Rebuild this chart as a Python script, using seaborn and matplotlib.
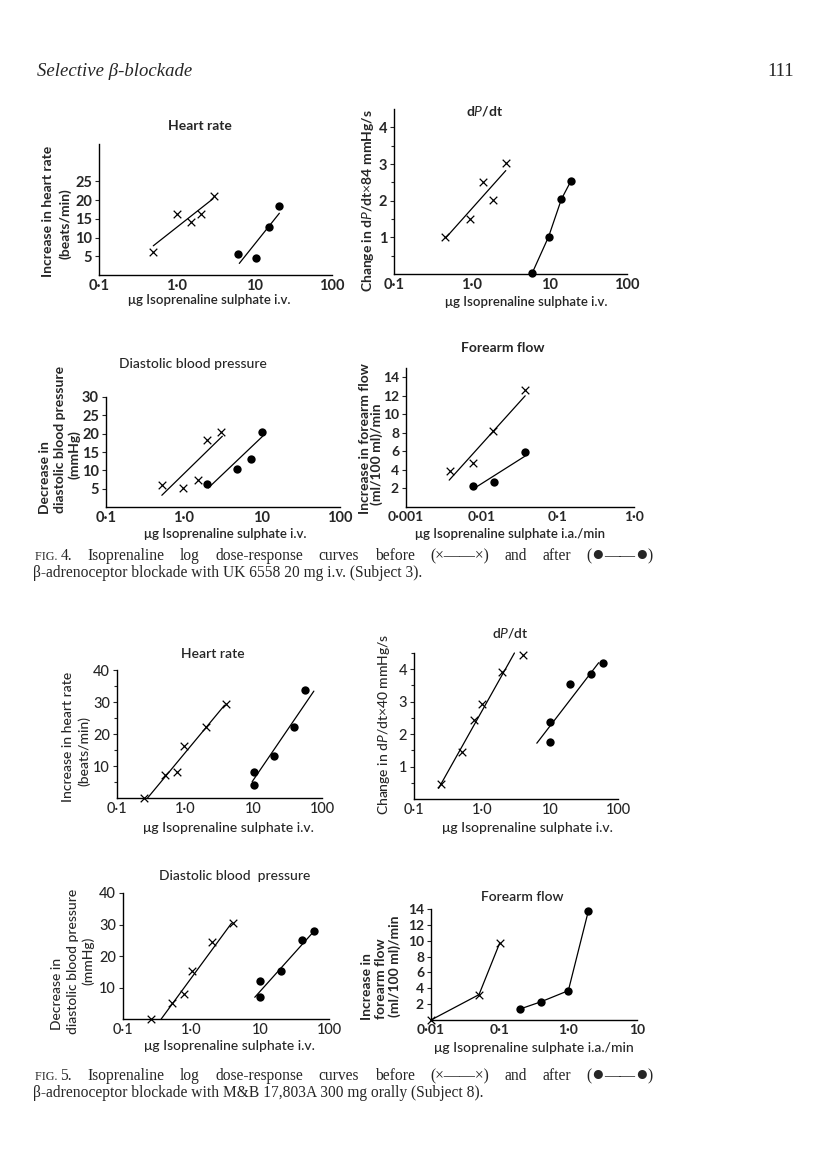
import matplotlib
matplotlib.use("Agg")
import matplotlib.pyplot as plt
import seaborn as sns
from matplotlib.ticker import NullLocator

sns.set_style("ticks")
plt.rcParams["font.family"] = ["Lato", "DejaVu Sans"]
plt.rcParams["mathtext.fontset"] = "custom"
plt.rcParams["mathtext.rm"] = "Lato"
plt.rcParams["mathtext.it"] = "Lato:italic"
plt.rcParams["mathtext.bf"] = "Lato:bold"
SERIF = ["Liberation Serif", "DejaVu Serif"]

# ---- data (x = dose, y = response) ----
# Fig. 4, heart rate
hr4_before_x = [0.5, 1.0, 1.55, 2.05, 3.0]
hr4_before_y = [6.2, 16.3, 14.2, 16.3, 21.2]
hr4_before_fit_x = [0.5, 2.95]
hr4_before_fit_y = [7.8, 20.4]
hr4_after_x = [6.2, 10.5, 15.5, 20.5]
hr4_after_y = [5.5, 4.6, 12.7, 18.5]
hr4_after_fit_x = [6.4, 21.0]
hr4_after_fit_y = [3.1, 16.5]

# Fig. 4, dP/dt
dp4_before_x = [0.46, 0.96, 1.39, 1.87, 2.8]
dp4_before_y = [1.0, 1.5, 2.52, 2.02, 3.02]
dp4_before_fit_x = [0.47, 2.75]
dp4_before_fit_y = [1.0, 2.82]
dp4_after_x = [6.0, 9.8, 14.3, 19.0]
dp4_after_y = [0.02, 1.02, 2.04, 2.54]

# Fig. 4, diastolic blood pressure
dbp4_before_x = [0.52, 0.98, 1.53, 2.0, 2.95]
dbp4_before_y = [5.9, 5.2, 7.3, 18.3, 20.5]
dbp4_before_fit_x = [0.52, 3.1]
dbp4_before_fit_y = [3.2, 19.3]
dbp4_after_x = [2.0, 4.8, 7.2, 10.0]
dbp4_after_y = [6.3, 10.3, 13.2, 20.5]
dbp4_after_fit_x = [2.05, 10.2]
dbp4_after_fit_y = [5.2, 19.3]

# Fig. 4, forearm flow
ff4_before_x = [0.0038, 0.0075, 0.0141, 0.0368]
ff4_before_y = [3.9, 4.7, 8.2, 12.65]
ff4_before_fit_x = [0.0037, 0.037]
ff4_before_fit_y = [2.9, 12.0]
ff4_after_x = [0.0075, 0.0142, 0.037]
ff4_after_y = [2.26, 2.7, 5.9]
ff4_after_fit_x = [0.0075, 0.037]
ff4_after_fit_y = [1.9, 5.5]

# Fig. 5, heart rate
hr5_before_x = [0.25, 0.5, 0.75, 0.97, 2.0, 4.0]
hr5_before_y = [0, 7.2, 8.2, 16.3, 22.3, 29.4]
hr5_before_fit_x = [0.28, 3.75]
hr5_before_fit_y = [0, 29.0]
hr5_after_x = [10, 10, 20, 39, 57]
hr5_after_y = [8.2, 4.1, 13.0, 22.2, 33.6]
hr5_after_fit_x = [9.5, 76]
hr5_after_fit_y = [5.1, 33.4]

# Fig. 5, dP/dt
dp5_before_x = [0.25, 0.51, 0.76, 1.0, 2.0, 4.0]
dp5_before_y = [0.45, 1.46, 2.44, 2.94, 3.92, 4.43]
dp5_before_fit_x = [0.23, 3.0]
dp5_before_fit_y = [0.33, 4.5]
dp5_after_x = [10, 10, 20, 40, 61]
dp5_after_y = [2.37, 1.75, 3.55, 3.86, 4.18]
dp5_after_fit_x = [6.4, 52]
dp5_after_fit_y = [1.72, 4.2]

# Fig. 5, diastolic blood pressure
dbp5_before_x = [0.26, 0.52, 0.77, 1.0, 2.0, 4.0]
dbp5_before_y = [0, 5.0, 7.9, 15.2, 24.5, 30.4]
dbp5_before_fit_x = [0.36, 3.8]
dbp5_before_fit_y = [0, 30.4]
dbp5_after_x = [10, 10, 20, 40, 60]
dbp5_after_y = [12.2, 7.1, 15.2, 25.1, 28.0]
dbp5_after_fit_x = [8.3, 63]
dbp5_after_fit_y = [6.9, 28.3]

# Fig. 5, forearm flow
ff5_before_x = [0.01, 0.05, 0.1]
ff5_before_y = [0, 3.2, 9.7]
ff5_after_x = [0.2, 0.4, 1.0, 1.95]
ff5_after_y = [1.4, 2.3, 3.7, 13.7]

dose_ticks = [0.1, 1, 10, 100]
dose_labels = ["0·1", "1·0", "10", "100"]
ia4_ticks = [0.001, 0.01, 0.1, 1]
ia4_labels = ["0·001", "0·01", "0·1", "1·0"]
ia5_ticks = [0.01, 0.1, 1, 10]
ia5_labels = ["0·01", "0·1", "1·0", "10"]

W, H = 816, 1170
fig = plt.figure(figsize=(W / 100, H / 100), dpi=100)


def panel(x0, x1, ytop, ybot):
    return fig.add_axes([x0 / W, 1 - ybot / H, (x1 - x0) / W, (ybot - ytop) / H])


def text(x, y, s, rot=0, **kw):
    kw.setdefault("ha", "center")
    kw.setdefault("va", "center")
    return fig.text(x / W, 1 - y / H, s, rotation=rot, **kw)


def marks(ax, bx, by, blx, bly, axx, ayy, alx, aly):
    sns.lineplot(x=blx, y=bly, ax=ax, color="black", lw=0.9, sort=False,
                 estimator=None, clip_on=False)
    sns.lineplot(x=alx, y=aly, ax=ax, color="black", lw=0.9, sort=False,
                 estimator=None, clip_on=False)
    sns.scatterplot(x=bx, y=by, ax=ax, marker="x", s=30, color="black",
                    linewidth=0.9, clip_on=False, zorder=3)
    sns.scatterplot(x=axx, y=ayy, ax=ax, marker="o", s=36, color="black",
                    edgecolor="black", linewidth=0, clip_on=False, zorder=3)


def style(ax, xlim, xticks, xlabels, ylim, yticks, yminor, weight, fs):
    ax.set_xscale("log")
    ax.set_xticks(xticks)
    ax.set_xticklabels(xlabels, fontsize=fs, fontweight=weight)
    ax.xaxis.set_minor_locator(NullLocator())
    ax.set_yticks(yticks)
    ax.set_yticklabels([str(v) for v in yticks], fontsize=fs, fontweight=weight)
    ax.set_yticks(yminor, minor=True)
    ax.set_xlim(*xlim)
    ax.set_ylim(*ylim)
    ax.tick_params(axis="x", length=0, pad=3)
    ax.tick_params(axis="y", which="major", length=3, width=0.8, pad=2)
    ax.tick_params(axis="y", which="minor", length=2, width=0.8)
    sns.despine(ax=ax)
    for s in ["left", "bottom"]:
        ax.spines[s].set_linewidth(1.0)
        ax.spines[s].set_color("black")
    ax.set_xlabel("")
    ax.set_ylabel("")
    ax.patch.set_alpha(0)


# ---------------- Fig. 4 ----------------
B = "bold"
ax = panel(99, 332, 144, 275)
marks(ax, hr4_before_x, hr4_before_y, hr4_before_fit_x, hr4_before_fit_y,
      hr4_after_x, hr4_after_y, hr4_after_fit_x, hr4_after_fit_y)
style(ax, (0.1, 100), dose_ticks, dose_labels, (0, 35), [5, 10, 15, 20, 25], [], B, 10.5)

ax = panel(394, 627, 109, 274)
marks(ax, dp4_before_x, dp4_before_y, dp4_before_fit_x, dp4_before_fit_y,
      dp4_after_x, dp4_after_y, dp4_after_x, dp4_after_y)
style(ax, (0.1, 100), dose_ticks, dose_labels, (0, 4.5), [1, 2, 3, 4],
      [0.5, 1.5, 2.5, 3.5], B, 10.5)

ax = panel(106, 340, 397, 507)
marks(ax, dbp4_before_x, dbp4_before_y, dbp4_before_fit_x, dbp4_before_fit_y,
      dbp4_after_x, dbp4_after_y, dbp4_after_fit_x, dbp4_after_fit_y)
style(ax, (0.1, 100), dose_ticks, dose_labels, (0, 30), [5, 10, 15, 20, 25, 30], [], B, 10.5)

ax = panel(406, 634, 368, 507)
marks(ax, ff4_before_x, ff4_before_y, ff4_before_fit_x, ff4_before_fit_y,
      ff4_after_x, ff4_after_y, ff4_after_fit_x, ff4_after_fit_y)
style(ax, (0.001, 1), ia4_ticks, ia4_labels, (0, 15), [2, 4, 6, 8, 10, 12, 14], [], B, 10)

# titles / labels fig 4
text(200, 126, "Heart rate", fontsize=10, fontweight=B)
text(485, 111, r"d$\mathit{P}$/dt", fontsize=10, fontweight=B)
text(193, 364, "Diastolic blood pressure", fontsize=10, fontweight="medium")
text(503, 348, "Forearm flow", fontsize=10, fontweight=B)

text(48, 211, "Increase in heart rate", 90, fontsize=10, fontweight=B)
text(65, 224, "(beats/min)", 90, fontsize=10, fontweight=B)
text(368, 201, r"Change in d$\mathit{P}$/dt$\times$84 mmHg/s", 90, fontsize=10, fontweight=B)
text(45, 478, "Decrease in", 90, fontsize=10, fontweight=B)
text(60, 439, "diastolic blood pressure", 90, fontsize=10, fontweight=B)
text(74, 455, "(mmHg)", 90, fontsize=10, fontweight=B)
text(365, 439, "Increase in forearm flow", 90, fontsize=10, fontweight=B)
text(377, 454, "(ml/100 ml)/min", 90, fontsize=10, fontweight=B)

text(209, 300, "μg Isoprenaline sulphate i.v.", fontsize=9.5, fontweight="semibold")
text(526, 302, "μg Isoprenaline sulphate i.v.", fontsize=9.5, fontweight="semibold")
text(225, 534, "μg Isoprenaline sulphate i.v.", fontsize=9.5, fontweight="semibold")
text(510, 534, "μg Isoprenaline sulphate i.a./min", fontsize=9.5, fontweight="semibold")

# ---------------- Fig. 5 ----------------
M = "medium"
ax = panel(117, 322, 670, 798)
marks(ax, hr5_before_x, hr5_before_y, hr5_before_fit_x, hr5_before_fit_y,
      hr5_after_x, hr5_after_y, hr5_after_fit_x, hr5_after_fit_y)
style(ax, (0.1, 100), dose_ticks, dose_labels, (0, 40), [10, 20, 30, 40],
      [5, 15, 25, 35], M, 10.5)

ax = panel(414, 618, 653, 799)
marks(ax, dp5_before_x, dp5_before_y, dp5_before_fit_x, dp5_before_fit_y,
      dp5_after_x, dp5_after_y, dp5_after_fit_x, dp5_after_fit_y)
style(ax, (0.1, 100), dose_ticks, dose_labels, (0, 4.5), [1, 2, 3, 4],
      [0.5, 1.5, 2.5, 3.5, 4.5], M, 10.5)

ax = panel(123, 329, 893, 1019)
marks(ax, dbp5_before_x, dbp5_before_y, dbp5_before_fit_x, dbp5_before_fit_y,
      dbp5_after_x, dbp5_after_y, dbp5_after_fit_x, dbp5_after_fit_y)
style(ax, (0.1, 100), dose_ticks, dose_labels, (0, 40), [10, 20, 30, 40], [], M, 10.5)

ax = panel(431, 637, 909, 1020)
marks(ax, ff5_before_x, ff5_before_y, ff5_before_x, ff5_before_y,
      ff5_after_x, ff5_after_y, ff5_after_x, ff5_after_y)
style(ax, (0.01, 10), ia5_ticks, ia5_labels, (0, 14), [2, 4, 6, 8, 10, 12, 14], [], B, 10)

text(213, 654, "Heart rate", fontsize=10, fontweight="semibold")
text(510, 633, r"d$\mathit{P}$/dt", fontsize=10, fontweight="semibold")
text(235, 876, "Diastolic blood  pressure", fontsize=10, fontweight=M)
text(522, 897, "Forearm flow", fontsize=10, fontweight="semibold")

text(68, 737, "Increase in heart rate", 90, fontsize=10, fontweight=M)
text(84, 751, "(beats/min)", 90, fontsize=10, fontweight=M)
text(384, 724, r"Change in d$\mathit{P}$/dt$\times$40 mmHg/s", 90, fontsize=10, fontweight=M)
text(57, 994, "Decrease in", 90, fontsize=10, fontweight=M)
text(73, 961, "diastolic blood pressure", 90, fontsize=10, fontweight=M)
text(88, 961, "(mmHg)", 90, fontsize=10, fontweight=M)
text(367, 987, "Increase in", 90, fontsize=10, fontweight=B)
text(381, 979, "forearm flow", 90, fontsize=10, fontweight=B)
text(395, 966, "(ml/100 ml)/min", 90, fontsize=10, fontweight=B)

text(228, 828, "μg Isoprenaline sulphate i.v.", fontsize=10, fontweight=M)
text(527, 828, "μg Isoprenaline sulphate i.v.", fontsize=10, fontweight=M)
text(229, 1046, "μg Isoprenaline sulphate i.v.", fontsize=10, fontweight=M)
text(534, 1048, "μg Isoprenaline sulphate i.a./min", fontsize=10, fontweight=M)

# ---------------- page text ----------------
text(37, 72, "Selective β-blockade", ha="left", family=SERIF, style="italic", fontsize=13.5)
text(794, 72, "111", ha="right", family=SERIF, fontsize=13.5)

renderer = fig.canvas.get_renderer()
CAP = 11.2


def justify(words, x0, x1, y, fs=CAP):
    # each word is a list of (string, size) pieces set side by side
    placed = []
    for word in words:
        pieces = []
        for s, scale in word:
            t = text(0, y + 4, s, ha="left", va="baseline", family=SERIF, fontsize=fs * scale)
            pieces.append((t, t.get_window_extent(renderer).width))
        placed.append(pieces)
    widths = [sum(w for _, w in p) for p in placed]
    gap = (x1 - x0 - sum(widths)) / (len(placed) - 1)
    x = x0
    for pieces, wd in zip(placed, widths):
        xx = x
        for t, w in pieces:
            t.set_x(xx / W)
            xx += w
        x += wd + gap


for num, y in [("4.", 556), ("5.", 1076)]:
    words = [[("FIG. ", 0.78), (num, 1)], [("Isoprenaline", 1)], [("log", 1)],
             [("dose-response", 1)], [("curves", 1)], [("before", 1)],
             [("(×——×)", 1)], [("and", 1)], [("after", 1)],
             [("(", 1), ("●", 1.35), ("——", 1), ("●", 1.35), (")", 1)]]
    justify(words, 35, 653, y)

text(33, 573, "β-adrenoceptor blockade with UK 6558 20 mg i.v. (Subject 3).",
     ha="left", family=SERIF, fontsize=CAP)
text(33, 1093, "β-adrenoceptor blockade with M&B 17,803A 300 mg orally (Subject 8).",
     ha="left", family=SERIF, fontsize=CAP)

fig.savefig("out.png", dpi=100)
